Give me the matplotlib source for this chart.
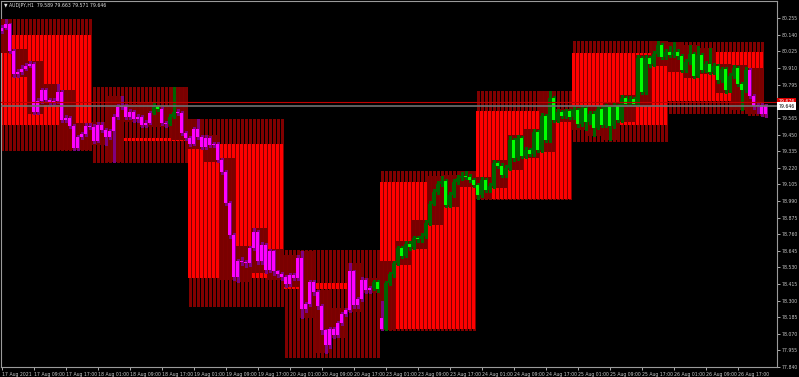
import numpy as np
import matplotlib.pyplot as plt
import matplotlib.transforms as mtransforms

# AUDJPY H1, бары с 17 Aug 01:00
opens = [
    80.167, 80.188, 80.212, 80.029, 79.870, 79.884, 79.905, 79.925, 79.939, 79.608, 79.684, 79.760,
    79.690, 79.677, 79.684, 79.746, 79.552, 79.566, 79.511, 79.359, 79.435, 79.455, 79.511,
    79.504, 79.407, 79.518, 79.483, 79.435, 79.476, 79.573, 79.642, 79.649, 79.573, 79.608, 79.559,
    79.573, 79.518, 79.531, 79.601, 79.642, 79.628, 79.531, 79.525, 79.573, 79.608, 79.601, 79.462,
    79.428, 79.386, 79.490, 79.435, 79.366, 79.428, 79.379, 79.386, 79.276, 79.193, 78.979, 78.751,
    78.460, 78.571, 78.564, 78.557, 78.661, 78.778, 78.571, 78.688, 78.509, 78.640, 78.502, 78.481,
    78.460, 78.412, 78.474, 78.453, 78.592, 78.239, 78.274, 78.426, 78.357, 78.260, 78.094, 77.990,
    78.101, 78.059, 78.142, 78.205, 78.232, 78.502, 78.267, 78.308, 78.440, 78.370, 78.384, 78.426,
    78.177, 78.101, 78.419, 78.481, 78.557, 78.661, 78.612, 78.695, 78.668, 78.730, 78.723, 78.744,
    78.840, 78.972, 79.055, 79.110, 79.131, 78.965, 79.034, 79.124, 79.151, 79.165, 79.158, 79.138,
    79.103, 79.034, 79.138, 79.068, 79.096, 79.255, 79.234, 79.172, 79.221, 79.414, 79.290, 79.428,
    79.303, 79.345, 79.317, 79.469, 79.345, 79.580, 79.414, 79.704, 79.552, 79.608, 79.580, 79.614,
    79.573, 79.621, 79.525, 79.635, 79.538, 79.594, 79.497, 79.628, 79.518, 79.642, 79.511, 79.649,
    79.552, 79.704, 79.663, 79.697, 79.663, 79.981, 79.746, 79.981, 79.939, 80.008, 80.071, 79.988,
    80.022, 80.001, 80.022, 79.995, 79.898, 79.953, 80.008, 79.856, 80.001, 79.898, 79.939, 79.884,
    79.925, 79.829, 79.905, 79.760, 79.856, 79.912, 79.801, 79.760, 79.898, 79.718, 79.649, 79.656,
    79.589,
]
closes = [
    80.188, 80.212, 80.029, 79.870, 79.884, 79.905, 79.925, 79.939, 79.608, 79.684, 79.760, 79.690,
    79.677, 79.684, 79.746, 79.552, 79.566, 79.511, 79.359, 79.435, 79.455, 79.511, 79.504,
    79.407, 79.518, 79.483, 79.435, 79.476, 79.573, 79.642, 79.649, 79.573, 79.608, 79.559, 79.573,
    79.518, 79.531, 79.601, 79.642, 79.628, 79.531, 79.525, 79.573, 79.608, 79.601, 79.462, 79.428,
    79.386, 79.490, 79.435, 79.366, 79.428, 79.379, 79.386, 79.276, 79.193, 78.979, 78.751, 78.460,
    78.571, 78.564, 78.557, 78.661, 78.778, 78.571, 78.688, 78.509, 78.640, 78.502, 78.481, 78.460,
    78.412, 78.474, 78.453, 78.592, 78.239, 78.274, 78.426, 78.357, 78.260, 78.094, 77.990, 78.101,
    78.059, 78.142, 78.205, 78.232, 78.502, 78.267, 78.308, 78.440, 78.370, 78.384, 78.426, 78.377,
    78.101, 78.419, 78.481, 78.557, 78.661, 78.612, 78.695, 78.668, 78.730, 78.723, 78.744, 78.840,
    78.972, 79.055, 79.110, 79.131, 78.965, 79.034, 79.124, 79.151, 79.165, 79.158, 79.138, 79.103,
    79.034, 79.138, 79.068, 79.096, 79.255, 79.234, 79.172, 79.221, 79.414, 79.290, 79.428, 79.303,
    79.345, 79.317, 79.469, 79.345, 79.580, 79.414, 79.704, 79.552, 79.608, 79.580, 79.614, 79.573,
    79.621, 79.525, 79.635, 79.538, 79.594, 79.497, 79.628, 79.518, 79.642, 79.511, 79.649, 79.552,
    79.704, 79.663, 79.697, 79.663, 79.981, 79.746, 79.981, 79.939, 80.008, 80.071, 79.988, 80.022,
    80.001, 80.022, 79.995, 79.898, 79.953, 80.008, 79.856, 80.001, 79.898, 79.939, 79.884, 79.925,
    79.829, 79.905, 79.760, 79.856, 79.912, 79.801, 79.760, 79.898, 79.718, 79.649, 79.656, 79.589,
    79.646,
]
highs = [
    80.205, 80.250, 80.225, 80.040, 79.905, 79.930, 79.945, 79.960, 79.950, 79.700, 79.775, 79.772,
    79.705, 79.700, 79.800, 79.760, 79.585, 79.580, 79.525, 79.450, 79.470, 79.530, 79.530,
    79.520, 79.535, 79.540, 79.495, 79.490, 79.590, 79.660, 79.720, 79.660, 79.625, 79.620, 79.590,
    79.585, 79.550, 79.615, 79.665, 79.650, 79.640, 79.545, 79.590, 79.782, 79.625, 79.615, 79.475,
    79.440, 79.500, 79.559, 79.450, 79.445, 79.440, 79.400, 79.395, 79.290, 79.205, 78.990, 78.765,
    78.590, 78.600, 78.580, 78.680, 78.800, 78.790, 78.705, 78.700, 78.655, 78.650, 78.515, 78.495,
    78.475, 78.490, 78.490, 78.615, 78.640, 78.290, 78.445, 78.440, 78.370, 78.275, 78.105, 78.115,
    78.120, 78.160, 78.220, 78.250, 78.560, 78.515, 78.325, 78.460, 78.455, 78.400, 78.440, 78.440,
    78.300, 78.435, 78.500, 78.575, 78.680, 78.675, 78.715, 78.710, 78.750, 78.745, 78.765, 78.860,
    78.990, 79.075, 79.130, 79.160, 79.145, 79.050, 79.140, 79.170, 79.190, 79.195, 79.175, 79.150,
    79.115, 79.155, 79.150, 79.115, 79.275, 79.270, 79.250, 79.240, 79.440, 79.425, 79.450, 79.440,
    79.365, 79.360, 79.490, 79.480, 79.600, 79.595, 79.753, 79.715, 79.625, 79.620, 79.630, 79.625,
    79.640, 79.635, 79.655, 79.650, 79.610, 79.610, 79.645, 79.640, 79.660, 79.655, 79.665, 79.660,
    79.725, 79.720, 79.715, 79.710, 80.000, 79.995, 80.000, 79.995, 80.030, 80.100, 80.085, 80.045,
    80.060, 80.093, 80.040, 80.005, 79.970, 80.070, 80.020, 80.065, 80.015, 79.960, 80.050, 79.945,
    79.940, 79.920, 79.915, 79.875, 79.930, 79.925, 79.815, 79.915, 79.910, 79.730, 79.670, 79.665,
    79.663,
]
lows = [
    80.150, 80.180, 80.015, 79.850, 79.845, 79.870, 79.895, 79.915, 79.590, 79.595, 79.670, 79.675,
    79.655, 79.660, 79.670, 79.540, 79.535, 79.495, 79.345, 79.340, 79.420, 79.440, 79.490,
    79.390, 79.395, 79.465, 79.380, 79.420, 79.257, 79.560, 79.630, 79.555, 79.560, 79.540, 79.540,
    79.500, 79.505, 79.520, 79.590, 79.610, 79.515, 79.505, 79.515, 79.565, 79.585, 79.445, 79.410,
    79.370, 79.375, 79.420, 79.350, 79.350, 79.365, 79.365, 79.260, 79.175, 78.960, 78.730, 78.440,
    78.430, 78.545, 78.530, 78.540, 78.650, 78.550, 78.555, 78.490, 78.495, 78.480, 78.460, 78.440,
    78.395, 78.400, 78.440, 78.440, 78.180, 78.220, 78.260, 78.340, 78.240, 78.070, 77.935, 77.975,
    78.040, 78.045, 78.130, 78.190, 78.220, 78.250, 78.250, 78.295, 78.355, 78.355, 78.370, 78.360,
    78.095, 78.095, 78.405, 78.465, 78.545, 78.595, 78.600, 78.650, 78.655, 78.705, 78.705, 78.730,
    78.825, 78.960, 79.040, 79.095, 78.950, 78.945, 79.020, 79.110, 79.135, 79.140, 79.120, 79.085,
    79.005, 79.020, 79.050, 79.050, 79.080, 79.215, 79.155, 79.155, 79.205, 79.270, 79.275, 79.285,
    79.290, 79.300, 79.300, 79.330, 79.330, 79.400, 79.400, 79.535, 79.540, 79.565, 79.565, 79.555,
    79.555, 79.505, 79.510, 79.480, 79.520, 79.440, 79.485, 79.500, 79.505, 79.410, 79.495, 79.535,
    79.540, 79.645, 79.650, 79.645, 79.650, 79.730, 79.730, 79.920, 79.925, 79.995, 79.970, 79.975,
    79.985, 79.990, 79.975, 79.880, 79.885, 79.940, 79.840, 79.845, 79.880, 79.885, 79.870, 79.870,
    79.810, 79.815, 79.740, 79.745, 79.840, 79.785, 79.620, 79.745, 79.700, 79.630, 79.600, 79.575,
    79.571,
]
# участки, где свечи зелёные (остальные - пурпурные)
green_runs = [(38, 39), (42, 43), (93, 94), (96, 186)]

# дневные блоки индикатора
day_first = [0, 23, 47, 71, 95, 119, 143, 167]
day_last = [22, 46, 70, 94, 118, 142, 166, 190]
box_hi = [80.140, 79.428, 79.386, 78.419, 79.124, 79.614, 80.017, 80.024]
box_lo = [79.513, 79.402, 78.458, 78.382, 78.101, 79.004, 79.513, 79.683]
day_hi = [80.250, 79.782, 79.559, 78.649, 79.195, 79.753, 80.100, 80.093]
day_lo = [79.340, 79.257, 78.265, 77.912, 78.095, 79.000, 79.402, 79.598]

level_line = 79.676
bid = 79.646
header = '\u25bc AUDJPY,H1  79.589 79.663 79.571 79.646'

price_ticks = [80.255, 80.140, 80.025, 79.910, 79.795, 79.680, 79.565, 79.450, 79.335, 79.220, 79.105,
               78.990, 78.875, 78.760, 78.645, 78.530, 78.415, 78.300, 78.185, 78.070, 77.955, 77.840]
time_labels = ['17 Aug 2021', '17 Aug 09:00', '17 Aug 17:00', '18 Aug 01:00', '18 Aug 09:00',
               '18 Aug 17:00', '19 Aug 01:00', '19 Aug 09:00', '19 Aug 17:00', '20 Aug 01:00',
               '20 Aug 09:00', '20 Aug 17:00', '23 Aug 01:00', '23 Aug 09:00', '23 Aug 17:00',
               '24 Aug 01:00', '24 Aug 09:00', '24 Aug 17:00', '25 Aug 01:00', '25 Aug 09:00',
               '25 Aug 17:00', '26 Aug 01:00', '26 Aug 09:00', '26 Aug 17:00']

o = np.array(opens)
c = np.array(closes)
h = np.array(highs)
l = np.array(lows)
n = len(c)
x = np.arange(n)

fig = plt.figure(figsize=(7.99, 3.77), dpi=100, facecolor='black')
ax = fig.add_axes([1 / 799, 10 / 377, 776 / 799, 366 / 377], facecolor='black')

# дневные диапазоны: тонкие тёмные линии + красные столбики
for d in range(len(day_first)):
    xs = np.arange(day_first[d], day_last[d] + 1)
    ax.vlines(xs, day_lo[d], day_hi[d], colors='#800000', lw=0.75, zorder=1, antialiased=False)
    ax.bar(xs, box_hi[d] - box_lo[d], bottom=box_lo[d], width=0.68,
           color='#ff0000', linewidth=0, zorder=2, antialiased=False)

# диапазоны H4 тёмно-красным
grp = (x + 1) // 4
for g in np.unique(grp):
    idx = x[grp == g]
    lo, hi = l[idx].min(), h[idx].max()
    ax.bar(idx, hi - lo, bottom=lo, width=0.68, color='#7a0000', linewidth=0, zorder=3,
           antialiased=False)

# свечи: растущие тёмно-зелёные, падающие ярко-зелёные
green = np.zeros(n, dtype=bool)
for a, b in green_runs:
    green[a:b + 1] = True
bull = c >= o
body_col = np.where(green, np.where(bull, '#006400', '#00ff00'), '#ff00ff')
wick_col = np.where(green, '#006400', '#800080')
ax.vlines(x, l, h, colors=list(wick_col), lw=0.75, zorder=4, antialiased=False)
ax.bar(x, np.maximum(np.abs(c - o), 0.004), bottom=np.minimum(o, c), width=0.55,
       color=list(body_col), linewidth=0, zorder=5, antialiased=False)

ax.axhline(level_line, color='#c00000', lw=0.8, zorder=6)
ax.axhline(bid, color='#707070', lw=1.2, zorder=6)

ax.set_xlim(-0.125, 193.875)
ax.set_ylim(77.845, 80.3746)

ax.yaxis.tick_right()
ax.set_yticks(price_ticks)
# метку 79.680 закрывает красная плашка уровня
ax.set_yticklabels(['' if v == 79.680 else f'{v:.3f}' for v in price_ticks])
ax.set_xticks(np.arange(0, 8 * len(time_labels), 8))
ax.set_xticklabels(time_labels, ha='left')
ax.tick_params(axis='both', colors='#c8c8c8', labelsize=3.3, length=2.5, width=0.6, pad=1)

for s in ax.spines.values():
    s.set_color('#9a9a9a')
    s.set_linewidth(0.8)

trans = mtransforms.blended_transform_factory(ax.transAxes, ax.transData)
ax.text(1.002, level_line, f'{level_line:.3f}', transform=trans, fontsize=3.3, color='white',
        va='center', ha='left', clip_on=False, zorder=10,
        bbox=dict(boxstyle='square,pad=0.3', fc='#e00000', ec='none'))
ax.text(1.002, bid, f'{bid:.3f}', transform=trans, fontsize=3.3, color='black',
        va='center', ha='left', clip_on=False, zorder=10,
        bbox=dict(boxstyle='square,pad=0.3', fc='white', ec='none'))

fig.text(4 / 799, 1 - 6 / 377, header, color='#e0e0e0', fontsize=3.3, va='center', ha='left')

fig.savefig('out.png', dpi=100, facecolor='black')
